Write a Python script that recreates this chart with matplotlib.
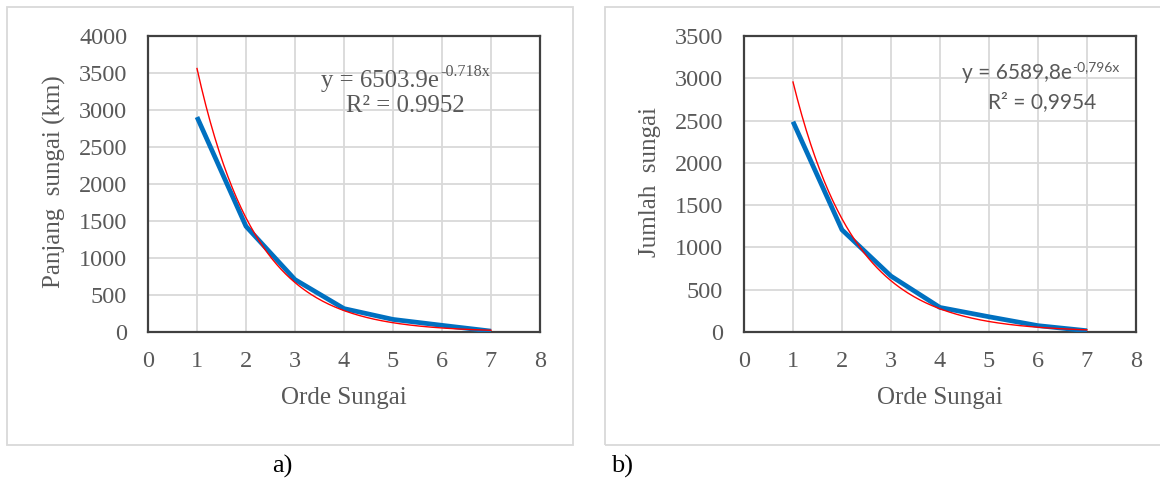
import numpy as np
import matplotlib
matplotlib.use("Agg")
import matplotlib.pyplot as plt
from matplotlib.patches import Rectangle

# stream order and the two measured series
orde = [1, 2, 3, 4, 5, 6, 7]
panjang = [2905, 1428, 708, 316, 170, 90, 12]
jumlah = [2487, 1208, 661, 290, 180, 75, 15]

eq_a = ("y = 6503.9e", "-0.718x", "R² = 0.9952")
eq_b = ("y = 6589,8e", "-0,796x", "R² = 0,9954")

grey = "#595959"
serif = "Liberation Serif"

plt.rcParams["font.family"] = serif

fig = plt.figure(figsize=(11.6, 4.84), dpi=100)
W, H = 1160.0, 484.0

# outer chart frames (excel chart areas)
for x0, x1 in [(7, 573), (605, 1165)]:
    fig.patches.append(Rectangle((x0 / W, 1 - 445 / H), (x1 - x0) / W, (445 - 7) / H,
                                 transform=fig.transFigure, fill=False,
                                 edgecolor="#D9D9D9", lw=1.3))


def trend(x, y):
    b, ln_a = np.polyfit(x, np.log(y), 1)
    xs = np.linspace(min(x), max(x), 200)
    return xs, np.exp(ln_a) * np.exp(b * xs)


def ftext(x, y, s, **kw):
    return fig.text(x / W, 1 - y / H, s, color=grey, **kw)


def panel(left, data, ymax, ylabel):
    ax = fig.add_axes([left / W, 1 - 332 / H, 392 / W, (332 - 36) / H])
    ax.plot(orde, data, color="#0070C0", lw=3.4, solid_capstyle="butt", zorder=3)
    xs, ys = trend(orde, data)
    ax.plot(xs, ys, color="#FF0000", lw=1.0, zorder=4)
    ax.set_xlim(0, 8)
    ax.set_ylim(0, ymax)
    ax.set_xticks(range(0, 9))
    ax.set_yticks(range(0, ymax + 1, 500))
    ax.grid(True, color="#D9D9D9", lw=1.3)
    ax.set_axisbelow(True)
    ax.tick_params(length=0, labelsize=17.5, labelcolor=grey)
    ax.tick_params(axis="y", pad=15)
    ax.tick_params(axis="x", pad=14)
    for s in ax.spines.values():
        s.set_color("#404040")
        s.set_linewidth(1.6)
    ftext(left + 196, 398, "Orde Sungai", ha="center", va="center", fontsize=18)
    ftext(left - 94, 182, ylabel, ha="center", va="center", rotation=90, fontsize=18)
    return ax


panel(148, panjang, 4000, "Panjang  sungai (km)")
panel(744, jumlah, 3500, "Jumlah  sungai")

# trendline equations, superscript drawn as its own text
ftext(439, 87, eq_a[0], ha="right", va="baseline", fontsize=17.8)
ftext(440, 76, eq_a[1], ha="left", va="baseline", fontsize=11.6)
ftext(405, 112, eq_a[2], ha="center", va="baseline", fontsize=17.8)

ftext(1072, 79, eq_b[0], ha="right", va="baseline", fontsize=15, family="Lato")
ftext(1072, 71, eq_b[1], ha="left", va="baseline", fontsize=10, family="Lato")
ftext(1042, 108, eq_b[2], ha="center", va="baseline", fontsize=15, family="Lato")

fig.text(282 / W, 1 - 466 / H, "a)", ha="center", va="center", fontsize=19, color="black")
fig.text(622 / W, 1 - 466 / H, "b)", ha="center", va="center", fontsize=19, color="black")

fig.savefig("out.png", dpi=100)
